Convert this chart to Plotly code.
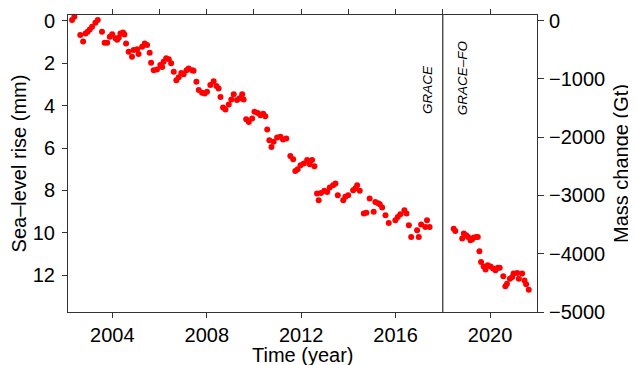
import plotly.graph_objects as go

# GRACE (2002-2017) monthly sea-level contribution, mm
grace_time = [2002.29, 2002.39, 2002.64, 2002.76, 2002.86, 2002.95, 2003.04, 2003.14, 2003.28, 2003.38,
              2003.56, 2003.67, 2003.78, 2003.89, 2003.99, 2004.13, 2004.20, 2004.27, 2004.34, 2004.45, 2004.51,
              2004.58, 2004.69, 2004.83, 2004.90, 2005.05, 2005.11, 2005.26, 2005.37, 2005.47, 2005.58,
              2005.64, 2005.75, 2005.89, 2006.03, 2006.11, 2006.17, 2006.28, 2006.39, 2006.49, 2006.60,
              2006.71, 2006.81, 2006.92, 2007.02, 2007.14, 2007.23, 2007.38, 2007.44,
              2007.56, 2007.66, 2007.80, 2007.91, 2008.01, 2008.15, 2008.29, 2008.41, 2008.50, 2008.58,
              2008.69, 2008.79, 2008.93, 2009.04, 2009.14, 2009.28, 2009.39, 2009.50, 2009.56,
              2009.67, 2009.78, 2009.92, 2010.02, 2010.16, 2010.27, 2010.39, 2010.48,
              2010.56, 2010.65, 2010.74, 2010.83, 2010.98, 2011.12, 2011.23, 2011.37,
              2011.54, 2011.66, 2011.75, 2011.85, 2011.97, 2012.11, 2012.25, 2012.36, 2012.46, 2012.56,
              2012.67, 2012.74, 2012.84, 2012.98, 2013.10, 2013.21, 2013.35, 2013.45, 2013.55, 2013.78,
              2013.87, 2013.99, 2014.20, 2014.30, 2014.37, 2014.48,
              2014.65, 2014.76, 2014.90, 2015.07, 2015.14, 2015.26, 2015.33, 2015.43,
              2015.57, 2015.71, 2015.99, 2016.09, 2016.20, 2016.37, 2016.46, 2016.56, 2016.66,
              2016.91, 2016.98, 2017.08, 2017.26, 2017.33, 2017.44]
grace_mm = [-0.03, -0.19, 0.67, 0.98, 0.60, 0.52, 0.41, 0.28, 0.09, -0.03,
            0.52, 1.04, 1.04, 0.75, 0.64, 0.83, 0.90, 0.80, 0.60, 0.56, 0.65,
            1.07, 1.46, 1.70, 1.38, 1.35, 1.57, 1.23, 1.07, 1.15, 1.51,
            1.98, 2.33, 2.30, 2.09, 2.18, 1.93, 1.77, 1.82, 2.01, 2.41,
            2.80, 2.67, 2.46, 2.52, 2.33, 2.25, 2.33, 2.36,
            2.88, 3.27, 3.40, 3.43, 3.35, 3.03, 2.85, 3.08, 3.19, 3.59,
            4.09, 4.18, 3.95, 3.71, 3.46, 3.74, 3.66, 3.46, 3.71,
            4.65, 4.77, 4.61, 4.29, 4.35, 4.45, 4.38, 4.50,
            5.13, 5.63, 5.95, 5.71, 5.50, 5.47, 5.60, 5.55,
            6.38, 6.53, 7.08, 7.00, 6.81, 6.73, 6.57, 6.76, 6.57, 6.86,
            8.15, 8.46, 8.12, 8.02, 8.07, 7.86, 7.75, 7.67, 8.23, 8.46,
            8.30, 8.23, 7.99, 7.90, 7.75, 8.02,
            9.09, 9.05, 8.38, 9.01, 8.54, 8.60, 8.65, 8.80,
            9.17, 9.53, 9.41, 9.25, 9.12, 8.93, 9.09, 9.64, 10.19,
            9.88, 10.19, 9.61, 9.72, 9.41, 9.72]

# GRACE-FO (2018-2021)
fo_time = [2018.46, 2018.53, 2018.82, 2018.89, 2018.99, 2019.07, 2019.17, 2019.24, 2019.31, 2019.42, 2019.48,
           2019.55, 2019.62, 2019.73, 2019.81, 2019.90, 2020.02, 2020.13, 2020.23, 2020.33, 2020.41,
           2020.56, 2020.65, 2020.72, 2020.84, 2020.94, 2021.00, 2021.15, 2021.22, 2021.36, 2021.46,
           2021.53, 2021.64]
fo_mm = [9.80, 9.91, 10.27, 10.03, 10.11, 10.19, 10.35, 10.30, 10.22, 10.19, 10.20,
         10.87, 11.37, 11.58, 11.73, 11.53, 11.58, 11.68, 11.76, 11.64, 11.64,
         12.05, 12.52, 12.40, 12.16, 12.08, 11.92, 11.89, 12.16, 11.92, 12.24,
         12.42, 12.68]

mission_switch = 2018.0
x_ticks = [2004, 2008, 2012, 2016, 2020]
left_ticks = [0, 2, 4, 6, 8, 10, 12]
right_ticks = [0, -1000, -2000, -3000, -4000, -5000]

FONT = "Liberation Sans, Arial, Helvetica, sans-serif"
AX = "#333333"
xr = [2002.12, 2021.99]

fig = go.Figure()
fig.add_trace(go.Scatter(x=grace_time + fo_time, y=grace_mm + fo_mm, mode="markers",
                         marker=dict(color="#ff0000", size=6, line=dict(width=0)),
                         showlegend=False, hoverinfo="skip"))
fig.add_trace(go.Scatter(x=[None], y=[None], xaxis="x2", yaxis="y2", mode="markers",
                         showlegend=False, hoverinfo="skip"))

fig.add_shape(type="line", xref="x", yref="paper", x0=mission_switch, x1=mission_switch,
              y0=0, y1=1, line=dict(color="black", width=1))

fig.add_annotation(x=2017.33, y=3.27, xref="x", yref="y", text="<i>GRACE</i>", textangle=-90,
                   showarrow=False, font=dict(family=FONT, size=13.5, color="black"))
fig.add_annotation(x=2018.82, y=2.7, xref="x", yref="y", text="<i>GRACE–FO</i>", textangle=-90,
                   showarrow=False, font=dict(family=FONT, size=13.5, color="black"))
# x-axis title as annotation for exact placement
fig.add_annotation(x=0.5, y=0, xref="paper", yref="paper", text="Time (year)",
                   xanchor="center", yanchor="top", yshift=-30, showarrow=False,
                   font=dict(family=FONT, size=20, color="black"))

# page body has an 8px margin, so the figure is sized/offset to compensate
fig.update_layout(
    width=628, height=357,
    margin=dict(l=60, r=99, t=7, b=53),
    paper_bgcolor="white", plot_bgcolor="white",
    font=dict(family=FONT, size=20, color="black"),
    xaxis=dict(range=xr, tickvals=x_ticks, ticks="outside", ticklen=5, tickcolor=AX,
               showline=True, linecolor=AX, linewidth=1, showgrid=False, zeroline=False,
               automargin=False, tickfont=dict(size=20)),
    xaxis2=dict(range=xr, overlaying="x", side="top", anchor="y", dtick=2, tick0=2004,
                ticks="outside", ticklen=5, tickcolor=AX, showticklabels=False, automargin=False,
                showline=True, linecolor=AX, linewidth=1, showgrid=False, zeroline=False),
    yaxis=dict(range=[13.73, -0.27], tickvals=left_ticks, ticks="outside", ticklen=5, tickcolor=AX,
               showline=True, linecolor=AX, linewidth=1, showgrid=False, zeroline=False,
               automargin=False, ticklabelstandoff=3,
               title=dict(text="Sea–level rise (mm)", standoff=6, font=dict(size=20)),
               tickfont=dict(size=20)),
    yaxis2=dict(range=[-5000, 98], overlaying="y", side="right", anchor="x", tickvals=right_ticks,
                ticks="outside", ticklen=6, tickcolor=AX, showline=True, linecolor=AX, linewidth=1,
                showgrid=False, zeroline=False, automargin=False, ticklabelstandoff=1,
                title=dict(text="Mass change (Gt)", standoff=9, font=dict(size=20)),
                tickfont=dict(size=20)),
)

fig.write_html("out.html")
